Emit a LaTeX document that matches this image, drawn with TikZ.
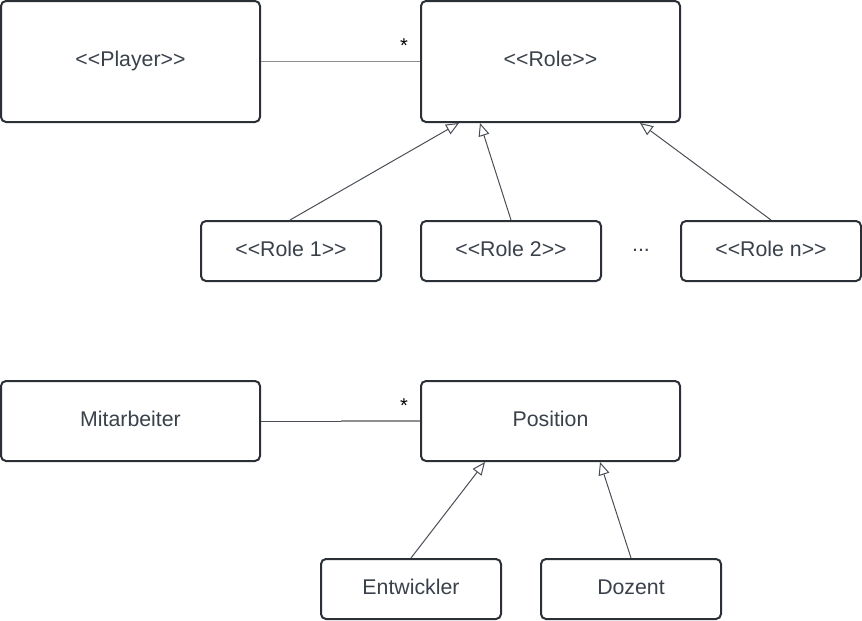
\documentclass[tikz,border=0pt]{standalone}
\usepackage{fontspec}
\setmainfont{Liberation Sans}[Ligatures=ResetAll]
\usetikzlibrary{arrows.meta,calc}
\newcommand\myltlt{<\kern0pt<}
\newcommand\mygtgt{>\kern0pt>}
\definecolor{boxline}{HTML}{2B2F36}
\definecolor{txt}{HTML}{3A414A}
\definecolor{assoc}{HTML}{8E8E8E}
\definecolor{assocdark}{HTML}{4A4F57}
\definecolor{genline}{HTML}{4A4F57}
\tikzset{
  umlbox/.style={draw=boxline, line width=2pt, rounded corners=5pt, fill=white,
    text=txt, font=\fontsize{21.3}{25}\selectfont, inner sep=0pt,
    text height=15.5pt, text depth=5pt},
  bigbox/.style={umlbox, minimum width=259pt, minimum height=121pt},
  midbox/.style={umlbox, minimum width=259pt, minimum height=80pt},
  smallbox/.style={umlbox, minimum width=180pt, minimum height=60pt},
  assocline/.style={draw=assoc, line width=1.5pt},
  genarrow/.style={draw=genline, line width=1pt,
    -{Triangle[open, length=13pt, width=11pt, fill=white]}},
  mult/.style={text=black, font=\fontsize{20}{22}\selectfont, inner sep=0pt},
  dots/.style={text=txt, font=\fontsize{21.3}{25}\selectfont, inner sep=0pt}
}
\begin{document}
\begin{tikzpicture}[x=1pt, y=-1pt]
\useasboundingbox (0,0) rectangle (862,621);
% top diagram
\node[bigbox] (player) at (130.5,61.5) {\myltlt Player\mygtgt};
\node[bigbox] (role) at (550.5,61.5) {\myltlt Role\mygtgt};
\node[smallbox] (role1) at (291,251) {\myltlt Role 1\mygtgt};
\node[smallbox] (role2) at (511,251) {\myltlt Role 2\mygtgt};
\node[smallbox] (rolen) at (771,251) {\myltlt Role n\mygtgt};
\node[dots] (ellipsis) at (641,250) {.\kern0pt.\kern0pt.};
\draw[assocline] (player.east) -- (role.west);
\node[mult] (star1) at (404,46) {*};
\draw[genarrow] ($(role1.north)+(-1,0)$) -- ($(role.south west)+(39,0)$);
\draw[genarrow] (role2.north) -- ($(role.south west)+(60,0)$);
\draw[genarrow] (rolen.north) -- ($(role.south west)+(220,0)$);
% bottom diagram
\node[midbox] (mitarbeiter) at (130.5,421) {Mitarbeiter};
\node[midbox] (position) at (550.5,421) {Position};
\node[smallbox] (entwickler) at (411,589) {Entwickler};
\node[smallbox] (dozent) at (631,589) {Dozent};
\coordinate (mid) at (341,421);
\draw[draw=assocdark, line width=1pt] (mitarbeiter.east) -- (mid);
\draw[assocline] (mid) -- (position.west);
\node[mult] (star2) at (404,406) {*};
\draw[genarrow] (entwickler.north) -- ($(position.south west)+(65,0)$);
\draw[genarrow] (dozent.north) -- ($(position.south west)+(180,0)$);
\end{tikzpicture}
\end{document}
